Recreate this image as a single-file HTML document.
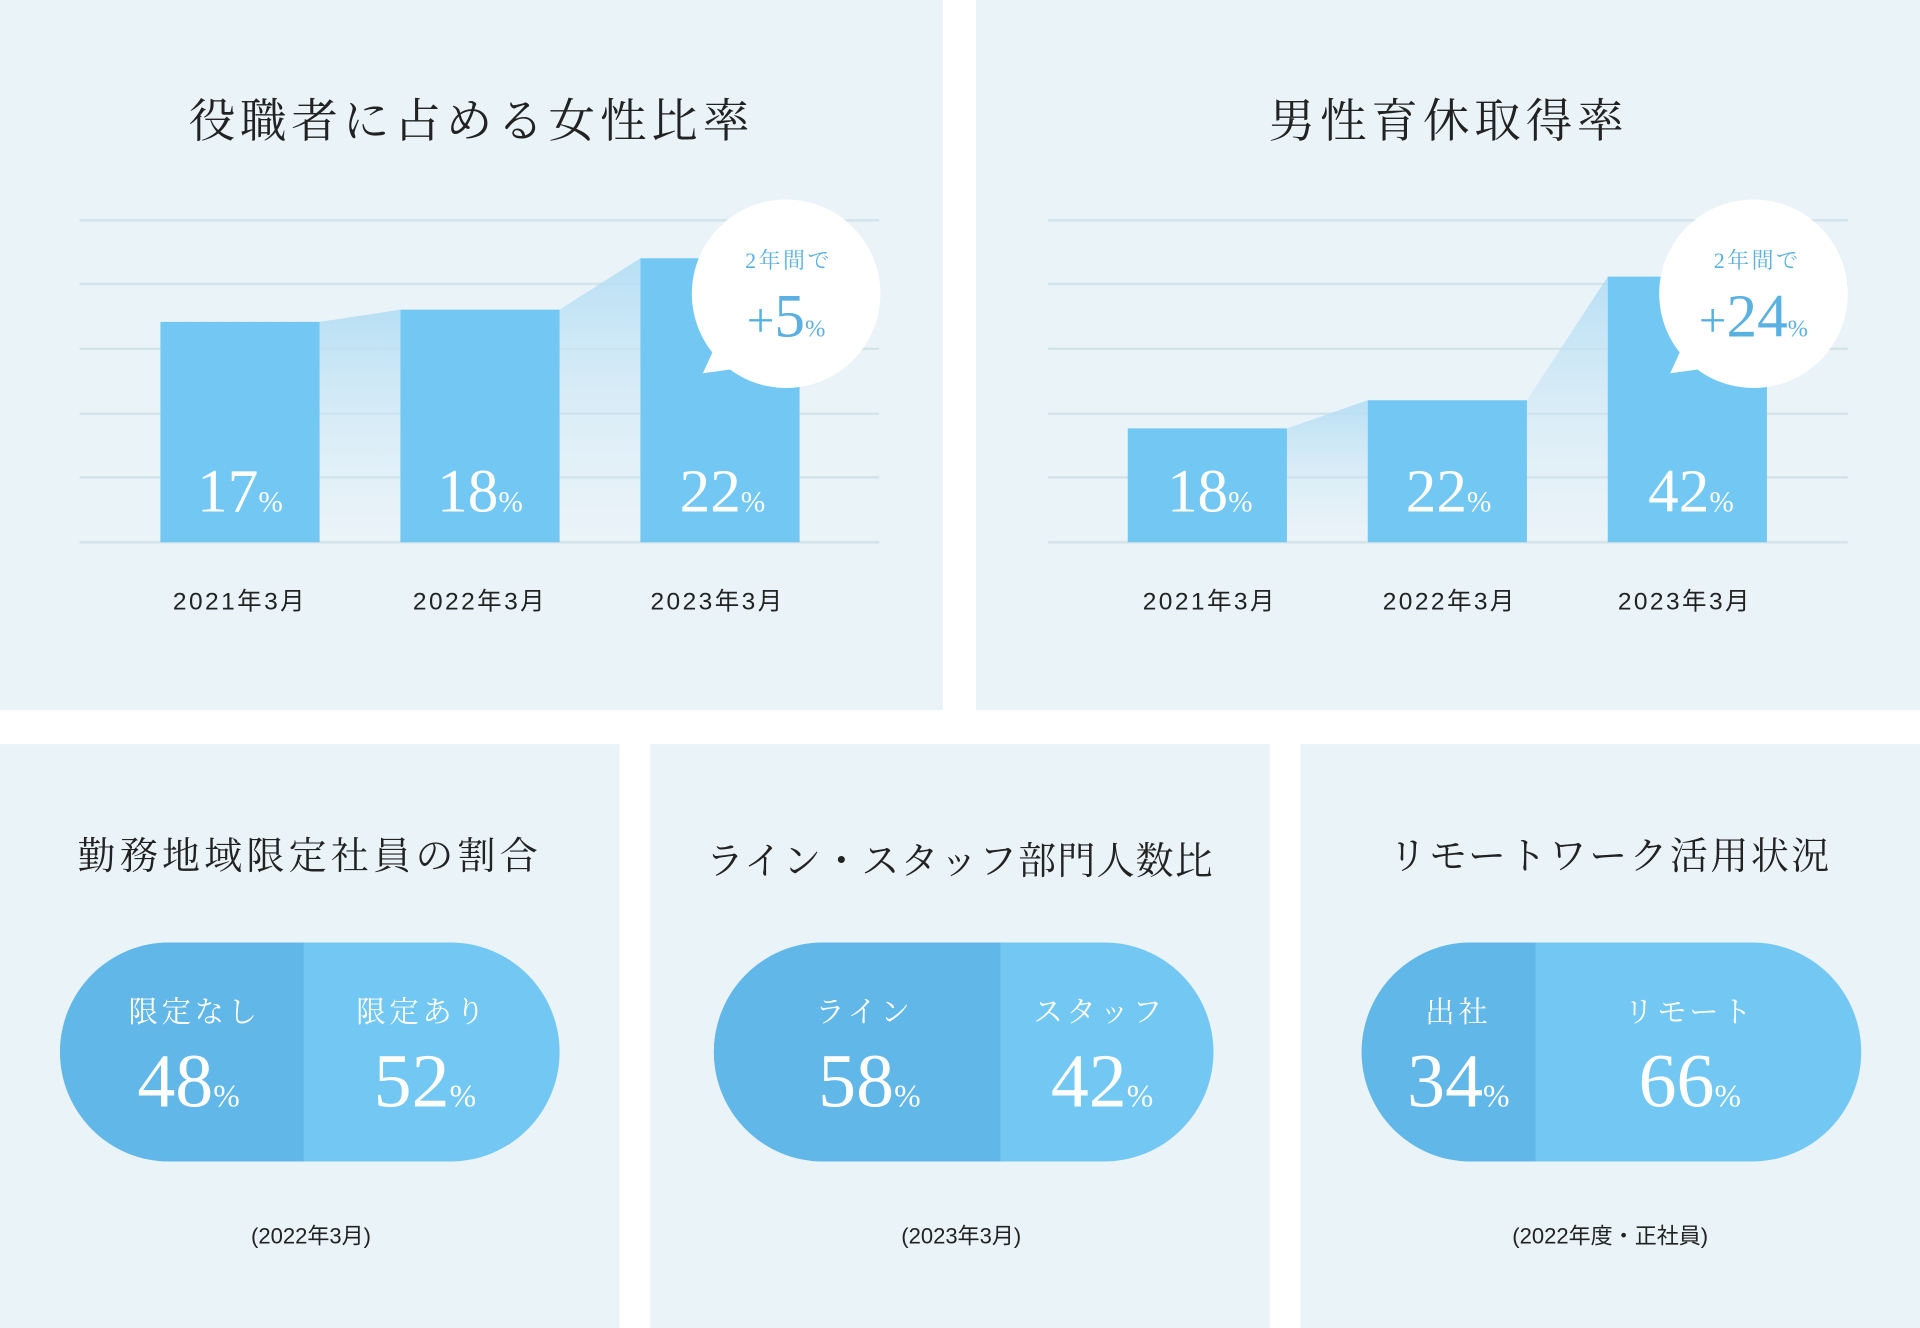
<!DOCTYPE html>
<html><head><meta charset="utf-8"><style>
html,body{margin:0;padding:0;background:#fff;}
svg{display:block;}
.serif{font-family:"Liberation Serif","Noto Serif CJK SC",serif;}
.jser{font-family:"Liberation Serif","Noto Serif CJK JP","Noto Serif CJK SC",serif;}
.sans{font-family:"Liberation Sans","Noto Sans CJK JP",sans-serif;}
</style></head><body>
<svg width="1920" height="1328" viewBox="0 0 1568 1085" preserveAspectRatio="none" xmlns="http://www.w3.org/2000/svg">
<defs>
<linearGradient id="g" x1="0" y1="0" x2="0" y2="1">
<stop offset="0" stop-color="#b5def4" stop-opacity="0.95"/>
<stop offset="1" stop-color="#d7ecf7" stop-opacity="0"/>
</linearGradient>
</defs>
<rect width="1568" height="1085" fill="#fff"/>
<rect x="0" y="0" width="770" height="580" fill="#eaf3f8"/>
<rect x="797" y="0" width="771" height="580" fill="#eaf3f8"/>
<rect x="0" y="608" width="506" height="477" fill="#eaf3f8"/>
<rect x="531" y="608" width="506" height="477" fill="#eaf3f8"/>
<rect x="1062" y="608" width="506" height="477" fill="#eaf3f8"/>

<!-- chart 1 -->
<text x="385" y="112" text-anchor="middle" class="jser" font-size="38" fill="#222" letter-spacing="4">役職者に占める女性比率</text>
<g stroke="#d3e3ea" stroke-width="2">
<line x1="65" y1="180" x2="718" y2="180"/><line x1="65" y1="232" x2="718" y2="232"/><line x1="65" y1="285" x2="718" y2="285"/><line x1="65" y1="338" x2="718" y2="338"/><line x1="65" y1="390" x2="718" y2="390"/><line x1="65" y1="443" x2="718" y2="443"/>
</g>
<polygon points="261,263 327,253 327,443 261,443" fill="url(#g)"/>
<polygon points="457,253 523,211 523,443 457,443" fill="url(#g)"/>
<rect x="131" y="263" width="130" height="180" fill="#72c8f2"/>
<rect x="327" y="253" width="130" height="190" fill="#72c8f2"/>
<rect x="523" y="211" width="130" height="232" fill="#72c8f2"/>
<g class="serif" fill="#fff" text-anchor="middle">
<text x="196" y="418"><tspan font-size="50">17</tspan><tspan font-size="24">%</tspan></text>
<text x="392" y="418"><tspan font-size="50">18</tspan><tspan font-size="24">%</tspan></text>
<text x="590" y="418"><tspan font-size="50">22</tspan><tspan font-size="24">%</tspan></text>
</g>
<g class="sans" font-size="20" fill="#222" text-anchor="middle" letter-spacing="2">
<text x="196" y="498">2021年3月</text><text x="392" y="498">2022年3月</text><text x="586" y="498">2023年3月</text>
</g>
<circle cx="642" cy="240" r="77" fill="#fff"/>
<polygon points="574,305 590,270 625,298" fill="#fff"/>
<text x="644" y="219" text-anchor="middle" class="jser" font-size="18" fill="#5ab0e0" letter-spacing="2">2年間で</text>
<text x="642" y="275" text-anchor="middle" class="serif" fill="#5ab0e0"><tspan font-size="40">+</tspan><tspan font-size="50">5</tspan><tspan font-size="20">%</tspan></text>

<!-- chart 2 -->
<text x="1183" y="112" text-anchor="middle" class="jser" font-size="38" fill="#222" letter-spacing="4">男性育休取得率</text>
<g stroke="#d3e3ea" stroke-width="2">
<line x1="856" y1="180" x2="1509" y2="180"/><line x1="856" y1="232" x2="1509" y2="232"/><line x1="856" y1="285" x2="1509" y2="285"/><line x1="856" y1="338" x2="1509" y2="338"/><line x1="856" y1="390" x2="1509" y2="390"/><line x1="856" y1="443" x2="1509" y2="443"/>
</g>
<polygon points="1051,350 1117,327 1117,443 1051,443" fill="url(#g)"/>
<polygon points="1247,327 1313,226 1313,443 1247,443" fill="url(#g)"/>
<rect x="921" y="350" width="130" height="93" fill="#72c8f2"/>
<rect x="1117" y="327" width="130" height="116" fill="#72c8f2"/>
<rect x="1313" y="226" width="130" height="217" fill="#72c8f2"/>
<g class="serif" fill="#fff" text-anchor="middle">
<text x="988" y="418"><tspan font-size="50">18</tspan><tspan font-size="24">%</tspan></text>
<text x="1183" y="418"><tspan font-size="50">22</tspan><tspan font-size="24">%</tspan></text>
<text x="1381" y="418"><tspan font-size="50">42</tspan><tspan font-size="24">%</tspan></text>
</g>
<g class="sans" font-size="20" fill="#222" text-anchor="middle" letter-spacing="2">
<text x="988" y="498">2021年3月</text><text x="1184" y="498">2022年3月</text><text x="1376" y="498">2023年3月</text>
</g>
<circle cx="1432" cy="240" r="77" fill="#fff"/>
<polygon points="1364,305 1380,270 1415,298" fill="#fff"/>
<text x="1435" y="219" text-anchor="middle" class="jser" font-size="18" fill="#5ab0e0" letter-spacing="2">2年間で</text>
<text x="1432" y="275" text-anchor="middle" class="serif" fill="#5ab0e0"><tspan font-size="40">+</tspan><tspan font-size="50">24</tspan><tspan font-size="20">%</tspan></text>

<!-- bottom panels -->
<g class="jser" font-size="31" fill="#222" text-anchor="middle">
<text x="253" y="710" letter-spacing="3.5">勤務地域限定社員の割合</text>
<text x="784" y="714" letter-spacing="1">ライン・スタッフ部門人数比</text>
<text x="1315" y="710" letter-spacing="2">リモートワーク活用状況</text>
</g>

<rect x="49" y="770" width="408" height="179" rx="89.5" fill="#72c8f2"/>
<path d="M248,770 H138.5 A89.5,89.5 0 0 0 138.5,949 H248 Z" fill="#60b7e8"/>
<rect x="583" y="770" width="408" height="179" rx="89.5" fill="#72c8f2"/>
<path d="M817,770 H672.5 A89.5,89.5 0 0 0 672.5,949 H817 Z" fill="#60b7e8"/>
<rect x="1112" y="770" width="408" height="179" rx="89.5" fill="#72c8f2"/>
<path d="M1254,770 H1201.5 A89.5,89.5 0 0 0 1201.5,949 H1254 Z" fill="#60b7e8"/>

<g class="jser" font-size="24" fill="#fff" text-anchor="middle" letter-spacing="3">
<text x="159" y="835">限定なし</text><text x="345" y="835">限定あり</text>
<text x="706" y="835">ライン</text><text x="898" y="835">スタッフ</text>
<text x="1191" y="835">出社</text><text x="1380" y="835">リモート</text>
</g>
<g class="serif" fill="#fff" text-anchor="middle">
<text x="154" y="904"><tspan font-size="62">48</tspan><tspan font-size="26">%</tspan></text>
<text x="347" y="904"><tspan font-size="62">52</tspan><tspan font-size="26">%</tspan></text>
<text x="710" y="904"><tspan font-size="62">58</tspan><tspan font-size="26">%</tspan></text>
<text x="900" y="904"><tspan font-size="62">42</tspan><tspan font-size="26">%</tspan></text>
<text x="1191" y="904"><tspan font-size="62">34</tspan><tspan font-size="26">%</tspan></text>
<text x="1380" y="904"><tspan font-size="62">66</tspan><tspan font-size="26">%</tspan></text>
</g>
<g class="sans" font-size="18" fill="#222" text-anchor="middle">
<text x="254" y="1016">(2022年3月)</text>
<text x="785" y="1016">(2023年3月)</text>
<text x="1315" y="1016">(2022年度・正社員)</text>
</g>
</svg>
</body></html>
